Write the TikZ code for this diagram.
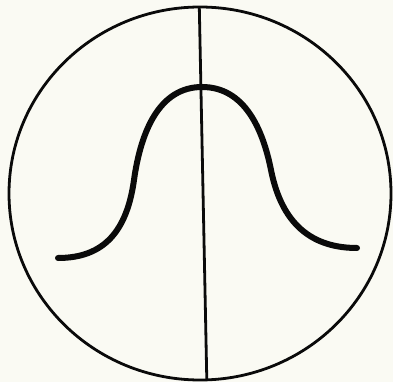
\documentclass[tikz,border=0pt]{standalone}
\definecolor{paper}{RGB}{250,250,243}
\definecolor{ink}{RGB}{10,10,10}
\begin{document}
\begin{tikzpicture}[x=1pt,y=-1pt,
  thin line/.style={draw=ink,line width=2.8pt},
  bell/.style={draw=ink,line width=6pt,line cap=round}]
\fill[paper] (0,0) rectangle (393,382);
\useasboundingbox (0,0) rectangle (393,382);
\draw[thin line] (200,193.5) ellipse [x radius=191,y radius=186.5];
\draw[thin line] (199.3,7) -- (206.8,380);
\draw[bell] (58,258) .. controls (105,258) and (127,230) .. (134,180)
  .. controls (141,130) and (160,87) .. (202,87)
  .. controls (245,87) and (263,130) .. (271,170)
  .. controls (279,210) and (300,248) .. (357,248);
\end{tikzpicture}
\end{document}
